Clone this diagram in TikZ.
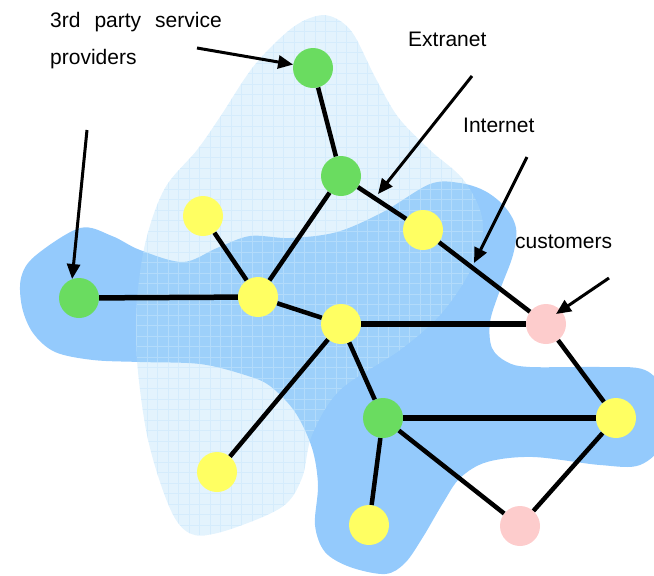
\documentclass[tikz,border=0pt]{standalone}
\usepackage{fontspec}
\setmainfont{Liberation Sans}
\usetikzlibrary{arrows.meta}
\definecolor{netblue}{HTML}{94CAFC}
\definecolor{extfill}{RGB}{175,221,249}
\definecolor{gridc}{RGB}{200,230,252}
\definecolor{ngreen}{HTML}{6ADC60}
\definecolor{nyellow}{HTML}{FFFF62}
\definecolor{npink}{HTML}{FDCCCC}
\begin{document}
\begin{tikzpicture}[x=1pt,y=-1pt,
  dot/.style={circle,minimum size=40pt,inner sep=0pt},
  gdot/.style={dot,fill=ngreen},
  ydot/.style={dot,fill=nyellow},
  pdot/.style={dot,fill=npink},
  link/.style={line width=4.5pt},
  hlink/.style={line width=5.5pt},
  pointer/.style={line width=3pt,-{Triangle[length=15pt,width=13pt]}},
  lbl/.style={font=\fontsize{21}{25}\selectfont,anchor=base west,inner sep=0pt}]
\useasboundingbox (0,0) rectangle (654,576);
\begin{scope}
\clip (0,0) rectangle (654,576);
% Internet blob
\fill[netblue] plot[smooth cycle,tension=0.55] coordinates {
 (80,228) (112,236) (140,250) (183,262) (217,248) (250,236) (290,238) (337,232)
 (383,212) (430,184) (460,183) (485,191) (505,207) (516,228) (513,255) (500,290)
 (490,322) (492,348) (507,362) (530,367) (600,367) (645,370) (665,395) (665,440)
 (640,465) (600,465) (533,457) (487,462) (460,478) (443,503) (423,537) (405,563)
 (385,574) (350,567) (325,552) (315,525) (318,485) (312,448) (295,412) (270,386)
 (245,375) (200,364) (140,362) (93,360) (55,352) (33,333) (22,307) (21,278) (35,256)};
% Extranet blob
\begin{scope}
\clip plot[smooth cycle,tension=0.55] coordinates {
 (330,16) (352,32) (375,77) (398,117) (430,150) (462,178) (480,210) (482,238)
 (468,275) (440,315) (400,350) (340,390) (312,435) (302,478) (282,507) (228,530)
 (195,535) (176,520) (160,482) (146,430) (137,360) (137,300) (146,240) (165,188)
 (197,150) (220,117) (253,67) (287,32) (310,18)};
\fill[extfill,opacity=0.35] (0,0) rectangle (654,576);
\draw[gridc,opacity=0.5,line width=0.9pt,step=10.5pt] (120,0) grid (500,550);
\end{scope}
\end{scope}
% nodes
\node[gdot] (G1) at (313,68) {};
\node[gdot] (G2) at (341,176) {};
\node[ydot] (Y1) at (203,216) {};
\node[ydot] (Y2) at (423,230) {};
\node[gdot] (G3) at (79,298) {};
\node[ydot] (Y3) at (258,297) {};
\node[ydot] (Y4) at (341,324) {};
\node[pdot] (P1) at (546,324) {};
\node[gdot] (G4) at (383,418) {};
\node[ydot] (Y5) at (616,418) {};
\node[ydot] (Y6) at (217,472) {};
\node[ydot] (Y7) at (369,525) {};
\node[pdot] (P2) at (520,526) {};
% links
\draw[link] (G1) -- (G2);
\draw[link] (G2) -- (Y2);
\draw[link] (Y2) -- (P1);
\draw[link] (G2) -- (Y3);
\draw[link] (Y1) -- (Y3);
\draw[hlink] (G3) -- (Y3);
\draw[link] (Y3) -- (Y4);
\draw[hlink] (Y4) -- (P1);
\draw[link] (Y4) -- (Y6);
\draw[link] (Y4) -- (G4);
\draw[hlink] (G4) -- (Y5);
\draw[link] (G4) -- (Y7);
\draw[link] (G4) -- (P2);
\draw[link] (P1) -- (Y5);
\draw[link] (Y5) -- (P2);
% labels
\node[lbl] (t1) at (50,27) {3rd\hspace{14pt}party\hspace{14pt}service};
\node[lbl] (t2) at (50,64) {providers};
\node[lbl] (t3) at (408,46) {Extranet};
\node[lbl] (t4) at (463,132) {Internet};
\node[lbl] (t5) at (515,248) {customers};
% pointers
\coordinate (s1) at (197,48);
\coordinate (s2) at (87,130);
\coordinate (s3) at (472,76);
\coordinate (e3) at (378,194);
\coordinate (s4) at (527,157);
\coordinate (e4) at (474,263);
\coordinate (s5) at (609,278);
\coordinate (e5) at (556,314);
\draw[pointer] (s1) -- (G1);
\draw[pointer] (s2) -- (G3.110);
\draw[pointer] (s3) -- (e3);
\draw[pointer] (s4) -- (e4);
\draw[pointer] (s5) -- (e5);
\end{tikzpicture}
\end{document}
